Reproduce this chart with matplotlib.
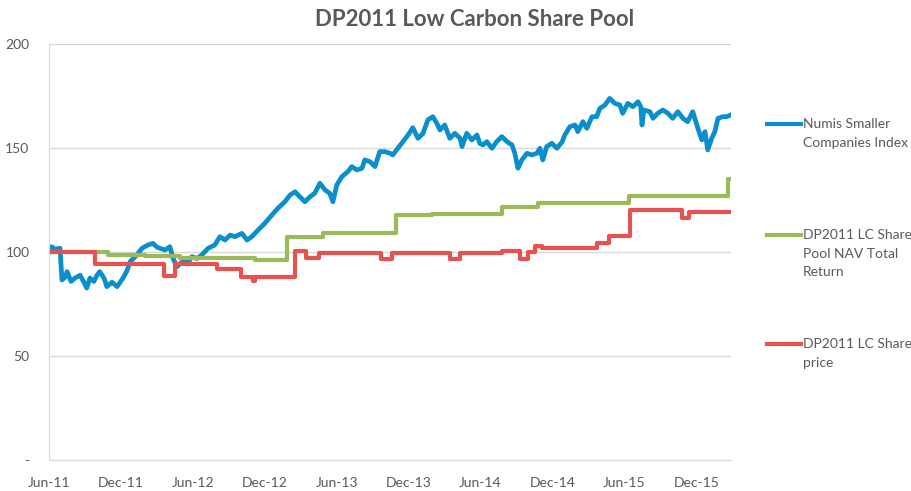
import matplotlib
matplotlib.use("Agg")
import matplotlib.pyplot as plt
import matplotlib.dates as mdates
from matplotlib.lines import Line2D
import pandas as pd

plt.rcParams['font.family'] = ['Lato', 'DejaVu Sans']

# Numis Smaller Companies Index (rebased to 100)
numis_dates = [
    '2011-06-01', '2011-06-08', '2011-06-16', '2011-06-29', '2011-07-04', '2011-07-12',
    '2011-07-17', '2011-07-27', '2011-08-06', '2011-08-19', '2011-08-29', '2011-09-05',
    '2011-09-13', '2011-09-23', '2011-10-01', '2011-10-08', '2011-10-19', '2011-10-26',
    '2011-11-08', '2011-11-21', '2011-12-06', '2011-12-16', '2011-12-24', '2012-01-10',
    '2012-01-23', '2012-02-07', '2012-02-20', '2012-03-01', '2012-03-09', '2012-03-22',
    '2012-04-03', '2012-04-11', '2012-04-21', '2012-04-29', '2012-05-11', '2012-05-19',
    '2012-05-29', '2012-06-11', '2012-06-23', '2012-07-09', '2012-07-26', '2012-08-08',
    '2012-08-21', '2012-09-03', '2012-09-15', '2012-10-03', '2012-10-16', '2012-10-28',
    '2012-11-13', '2012-11-30', '2012-12-18', '2013-01-02', '2013-01-20', '2013-02-02',
    '2013-02-15', '2013-02-27', '2013-03-12', '2013-03-25', '2013-04-06', '2013-04-19',
    '2013-05-02', '2013-05-14', '2013-05-22', '2013-06-01', '2013-06-14', '2013-06-29',
    '2013-07-09', '2013-07-22', '2013-08-04', '2013-08-11', '2013-08-24', '2013-09-06',
    '2013-09-18', '2013-10-01', '2013-10-14', '2013-10-21', '2013-11-03', '2013-11-16',
    '2013-11-29', '2013-12-11', '2013-12-24', '2014-01-06', '2014-01-18', '2014-01-31',
    '2014-02-10', '2014-02-18', '2014-03-02', '2014-03-15', '2014-03-28', '2014-04-10',
    '2014-04-15', '2014-04-27', '2014-05-10', '2014-05-23', '2014-05-30', '2014-06-07',
    '2014-06-17', '2014-06-30', '2014-07-12', '2014-07-25', '2014-08-07', '2014-08-20',
    '2014-08-27', '2014-09-04', '2014-09-14', '2014-09-27', '2014-10-09', '2014-10-22',
    '2014-10-30', '2014-11-06', '2014-11-16', '2014-11-29', '2014-12-12', '2014-12-25',
    '2015-01-01', '2015-01-14', '2015-01-27', '2015-02-03', '2015-02-16', '2015-02-26',
    '2015-03-11', '2015-03-23', '2015-03-31', '2015-04-13', '2015-04-25', '2015-05-08',
    '2015-05-21', '2015-05-28', '2015-06-10', '2015-06-23', '2015-07-06', '2015-07-13',
    '2015-07-16', '2015-07-21', '2015-08-05', '2015-08-13', '2015-08-25', '2015-09-07',
    '2015-09-20', '2015-10-02', '2015-10-15', '2015-10-28', '2015-11-09', '2015-11-22',
    '2015-12-05', '2015-12-15', '2015-12-23', '2015-12-30', '2016-01-09', '2016-01-17',
    '2016-01-25', '2016-02-06', '2016-02-16', '2016-02-26',
]
numis_vals = [
    100.0, 102.7, 101.5, 102.0, 86.7, 88.0,
    90.7, 86.0, 87.6, 89.0, 85.5, 82.8,
    87.6, 86.0, 89.0, 90.7, 87.5, 83.5,
    85.6, 83.5, 87.6, 91.0, 95.5, 98.7,
    101.9, 103.5, 104.3, 102.5, 101.9, 101.1,
    102.7, 97.1, 93.0, 94.5, 96.3, 95.0,
    97.9, 97.0, 98.7, 101.9, 103.5, 107.5,
    105.9, 108.3, 107.5, 109.1, 105.9, 107.5,
    110.7, 113.9, 117.9, 121.1, 124.3, 127.5,
    129.1, 126.7, 124.3, 126.7, 128.4, 133.2,
    130.0, 128.4, 124.3, 132.4, 136.4, 138.8,
    141.2, 139.6, 140.4, 144.4, 143.6, 141.2,
    148.4, 148.4, 147.6, 146.8, 150.0, 153.2,
    156.4, 159.9, 154.8, 157.2, 163.6, 165.2,
    162.0, 158.8, 161.2, 154.8, 157.2, 154.8,
    150.8, 157.2, 154.0, 156.4, 152.4, 151.6,
    153.2, 150.0, 153.2, 155.6, 153.2, 151.6,
    147.6, 140.4, 144.4, 147.6, 146.8, 147.6,
    150.0, 144.4, 150.8, 152.4, 150.0, 153.0,
    156.4, 160.4, 161.2, 158.0, 162.8, 159.6,
    165.2, 165.2, 169.2, 170.8, 174.0, 171.6,
    170.8, 166.8, 171.6, 170.0, 172.4, 170.0,
    161.2, 168.4, 167.6, 164.4, 166.8, 168.4,
    166.8, 164.4, 167.6, 164.4, 162.8, 167.6,
    159.6, 154.0, 158.0, 149.2, 154.8, 158.0,
    164.4, 165.2, 165.2, 166.0,
]

# DP2011 LC Share Pool NAV Total Return (step changes)
nav_dates = ['2011-06-01', '2011-10-29', '2012-01-31', '2012-04-29', '2012-11-05',
             '2013-01-25', '2013-04-27', '2013-10-29', '2014-01-28', '2014-07-25',
             '2014-10-25', '2015-06-13', '2016-02-19', '2016-02-26']
nav_vals = [100.0, 98.5, 98.0, 97.3, 96.5,
            107.2, 109.4, 117.9, 118.4, 121.6,
            123.5, 127.0, 135.0, 135.0]

# DP2011 LC Share price (step changes)
price_dates = ['2011-06-01', '2011-09-26', '2012-03-19', '2012-04-16', '2012-08-01',
               '2012-10-01', '2012-10-31', '2012-11-05', '2013-02-15', '2013-03-15',
               '2013-04-17', '2013-09-21', '2013-10-19', '2014-03-15', '2014-04-10',
               '2014-07-25', '2014-09-09', '2014-09-29', '2014-10-17', '2014-11-04',
               '2015-03-23', '2015-04-23', '2015-06-15', '2015-10-25', '2015-11-12',
               '2016-02-26']
price_vals = [100.0, 94.2, 88.6, 94.2, 92.0,
              88.0, 86.0, 88.0, 100.6, 97.1,
              99.8, 96.6, 99.5, 96.6, 99.5,
              100.8, 96.6, 100.3, 103.2, 102.2,
              104.6, 108.0, 120.3, 116.3, 119.5,
              119.5]

tick_dates = ['2011-06-01', '2011-12-01', '2012-06-01', '2012-12-01', '2013-06-01',
              '2013-12-01', '2014-06-01', '2014-12-01', '2015-06-01', '2015-12-01']
y_ticks = [0, 50, 100, 150, 200]
y_labels = ['-', '50', '100', '150', '200']

series_names = ['Numis Smaller\nCompanies Index',
                'DP2011 LC Share\nPool NAV Total\nReturn',
                'DP2011 LC Share\nprice']
colors = ['#0A8FCD', '#9BBB59', '#E5524F']
grey = '#595959'

fig = plt.figure(figsize=(9.12, 4.91), dpi=100)
ax = fig.add_axes([0.0537, 0.0625, 0.7478, 0.8473])

ax.plot(pd.to_datetime(numis_dates), numis_vals, color=colors[0], lw=3.4,
        solid_joinstyle='round')
ax.step(pd.to_datetime(nav_dates), nav_vals, where='post', color=colors[1], lw=3)
ax.step(pd.to_datetime(price_dates), price_vals, where='post', color=colors[2], lw=3)

ax.set_xlim(pd.Timestamp('2011-06-01'), pd.Timestamp('2016-02-27'))
ax.set_ylim(0, 200)
ax.set_yticks(y_ticks)
ax.set_yticklabels(y_labels)
ax.set_xticks(pd.to_datetime(tick_dates))
ax.xaxis.set_major_formatter(mdates.DateFormatter('%b-%y'))
ax.tick_params(length=0, labelcolor=grey, labelsize=10)
ax.tick_params(axis='x', pad=12)
ax.tick_params(axis='y', pad=14)
ax.yaxis.grid(True, color='#D9D9D9', lw=1)
ax.set_axisbelow(True)
for s in ['top', 'right']:
    ax.spines[s].set_visible(False)
for s in ['left', 'bottom']:
    ax.spines[s].set_color('#D9D9D9')

fig.text(475 / 912, 1 - 19 / 491, 'DP2011 Low Carbon Share Pool', ha='center',
         va='center', fontsize=16, fontweight='bold', color=grey)

# legend on the right, handle next to first text line
legend_y = [124, 235, 344]
for name, c, yy in zip(series_names, colors, legend_y):
    yf = 1 - yy / 491
    fig.add_artist(Line2D([767 / 912, 801 / 912], [yf, yf], color=c, lw=3,
                          transform=fig.transFigure))
    for i, line in enumerate(name.split('\n')):
        fig.text(803 / 912, 1 - (yy + i * 18.7) / 491, line, ha='left',
                 va='center', fontsize=10, color=grey)

fig.savefig('out.png', dpi=100)
